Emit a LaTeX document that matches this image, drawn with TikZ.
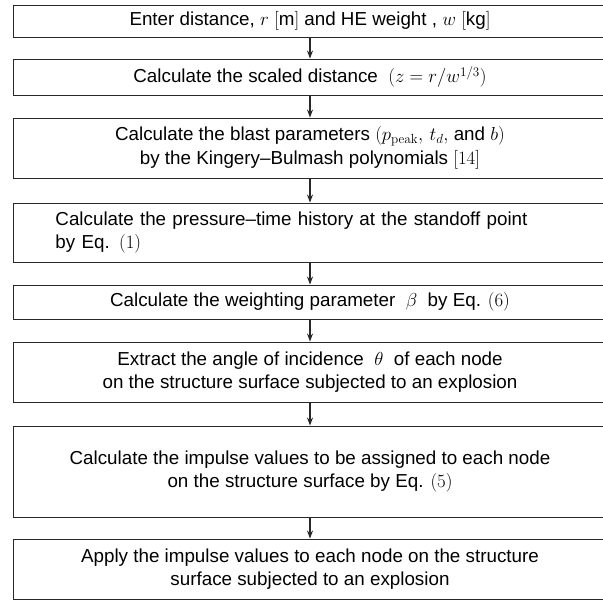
\RequirePackage{fix-cm}
\documentclass[tikz,border=0pt]{standalone}
\usepackage[no-math]{fontspec}
\setmainfont{Liberation Sans}
\usepackage{tikz}
\usetikzlibrary{arrows.meta, positioning}
\definecolor{boxline}{RGB}{40, 40, 40}

\begin{document}
\begin{tikzpicture}[x=1pt, y=-1pt,
    stepbox/.style={draw=boxline, line width=0.9pt, minimum width=594pt, align=center,
        inner sep=0pt, font=\fontsize{18.8}{23.5}\selectfont},
    flow/.style={-{Stealth[length=8pt, width=6pt]}, line width=1.1pt, draw=boxline}]
    \useasboundingbox (0,0) rectangle (603,600);
    \clip (0,0) rectangle (603,600);

    % Step 1
    \node[stepbox, minimum height=32pt] (enter) at (310,21)
        {Enter distance, $r$ $[$m$]$ and HE weight , $w$ $[$kg$]$};

    % Step 2
    \node[stepbox, minimum height=36pt] (scaled) at (310,77)
        {Calculate the scaled distance \ $(z=r/w^{1/3})$};

    % Step 3
    \node[stepbox, minimum height=60pt] (blast) at (310,148)
        {Calculate the blast parameters $(p_{\mathrm{peak}},\, t_d,$ and $b)$\\
         by the Kingery--Bulmash polynomials $[14]$};

    % Step 4 (left aligned)
    \node[stepbox, minimum height=59pt, anchor=west, text width=540pt, align=left,
        inner xsep=42pt] (history) at (13,232.5)
        {Calculate the pressure--time history at the standoff point\\
         by Eq. $(1)$};

    % Step 5
    \node[stepbox, minimum height=34pt] (weight) at (310,302)
        {Calculate the weighting parameter \ $\beta$ \ by Eq. $(6)$};

    % Step 6
    \node[stepbox, minimum height=60pt] (angle) at (310,372)
        {Extract the angle of incidence \ $\theta$ \ of each node\\
         on the structure surface subjected to an explosion};

    % Step 7
    \node[stepbox, minimum height=91pt] (impulse) at (310,471.5)
        {Calculate the impulse values to be assigned to each node\\
         on the structure surface by Eq. $(5)$};

    % Step 8
    \node[stepbox, minimum height=60pt] (apply) at (310,569)
        {Apply the impulse values to each node on the structure\\
         surface subjected to an explosion};

    % Arrows
    \draw[flow] (enter.south) -- (scaled.north);
    \draw[flow] (scaled.south) -- (blast.north);
    \draw[flow] (blast.south) -- (blast.south |- history.north);
    \draw[flow] (blast.south |- history.south) -- (weight.north);
    \draw[flow] (weight.south) -- (angle.north);
    \draw[flow] (angle.south) -- (impulse.north);
    \draw[flow] (impulse.south) -- (apply.north);
\end{tikzpicture}
\end{document}
